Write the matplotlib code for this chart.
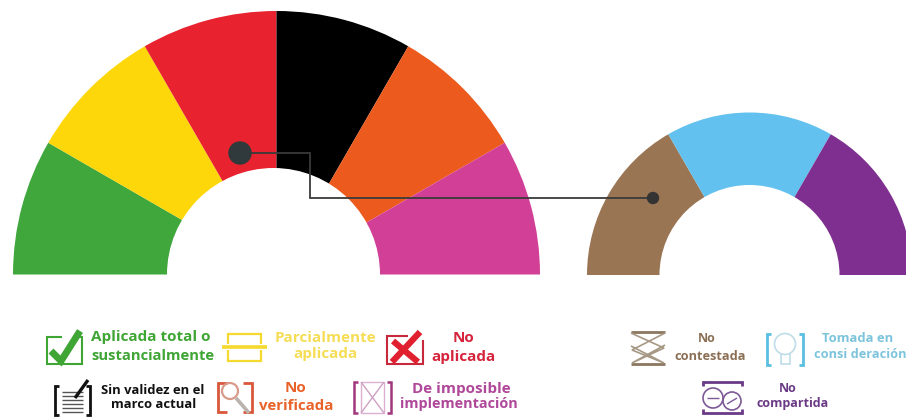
import matplotlib
matplotlib.use('Agg')
import matplotlib.pyplot as plt
from matplotlib.patches import Circle

W, H = 906, 418

# two half donuts, slices run left to right over the top
main_values = [1, 1, 1, 1, 1, 1]
main_colors = ['#3fa73c', '#fdd70a', '#e8222f', '#000000', '#ec5a1e', '#d23f97']
side_values = [1, 1, 1]
side_colors = ['#9a7554', '#62c1ee', '#7f2f8f']

# legend text: lines, x centre, y centres, colour, size
legend_main = [
    (['Aplicada total o', 'sustancialmente'], [151, 152.5], [337, 356], '#3fa535', [11.0, 10.6]),
    (['Parcialmente', 'aplicada'], [325, 325], [338, 354], '#f5dd55', [11.0, 11.0]),
    (['No', 'aplicada'], [463, 464], [338, 357], '#d5243c', [11.0, 11.0]),
    (['Sin validez en el', 'marco actual'], [153, 154], [390, 404], '#111111', [9.4, 9.4]),
    (['No', 'verificada'], [295, 296], [388, 406], '#e8632a', [11.0, 10.8]),
    (['De imposible', 'implementación'], [461, 458.5], [389, 404], '#b0489a', [11.0, 10.4]),
]
legend_side = [
    (['No', 'contestada'], [707, 710], [339, 356], '#8b6f55', [9.0, 9.2]),
    (['Tomada en', 'consi deración'], [857.5, 860], [339, 355], '#7cc4dc', [9.4, 9.2]),
    (['No', 'compartida'], [788, 792.5], [389, 404], '#6b3a86', [9.0, 9.0]),
]


def py(y):
    return H - y


def half_donut(ax, values, colors, cx, base, r_out, hole_cx, r_in):
    # blank slice takes the lower half so the rest fills 180 degrees
    vals = list(values) + [sum(values)]
    cols = list(colors) + ['none']
    ax.pie(vals, colors=cols, startangle=180, counterclock=False,
           center=(cx, py(base)), radius=r_out, frame=True,
           wedgeprops={'linewidth': 0})
    ax.add_patch(Circle((hole_cx, py(base)), r_in, color='white', lw=0, zorder=2))


def poly(ax, xs, ys, color, lw=1.5, **kw):
    ax.plot(xs, [py(y) for y in ys], color=color, lw=lw, zorder=kw.pop('zorder', 3),
            solid_capstyle=kw.pop('cap', 'butt'), solid_joinstyle='miter', **kw)


def ring(ax, x, y, r, color, lw=1.2):
    ax.add_patch(Circle((x, py(y)), r, fill=False, ec=color, lw=lw, zorder=3))


def bracket(ax, x0, x1, y0, y1, color, lw=1.5, tick=5):
    # square brackets left and right of an icon
    poly(ax, [x0 + tick, x0, x0, x0 + tick], [y0, y0, y1, y1], color, lw)
    poly(ax, [x1 - tick, x1, x1, x1 - tick], [y0, y0, y1, y1], color, lw)


fig = plt.figure(figsize=(W / 100, H / 100), dpi=100)
ax = fig.add_axes([0, 0, 1, 1])

half_donut(ax, main_values, main_colors, 276.5, 274.5, 263.5, 273.5, 106.5)
half_donut(ax, side_values, side_colors, 749.5, 275, 162.5, 749.5, 90)

# connector between the red slice and the brown one
poly(ax, [240, 310, 310, 653], [153, 153, 198, 198], '#3a3a3a', 1.3, zorder=5)
ax.add_patch(Circle((240, py(153)), 11, color='#30393b', zorder=6))
ax.add_patch(Circle((653, py(198)), 5.5, color='#333333', zorder=6))

# check mark
c = '#3fa535'
poly(ax, [62, 47, 47, 82, 82, 78], [337, 337, 364, 364, 337, 337], c, 1.5)
poly(ax, [51, 61, 80], [351, 361, 331], c, 5)

# split box
c = '#f5d92e'
poly(ax, [228, 228, 261, 261], [344, 334, 334, 344], c, 1.6)
poly(ax, [228, 228, 261, 261], [350, 361, 361, 350], c, 1.6)
poly(ax, [222, 267], [347, 347], c, 2.6)

# crossed box
c = '#c8283c'
poly(ax, [408, 387, 387, 423, 423], [336, 336, 364, 364, 340], c, 1.5)
poly(ax, [393, 418], [341, 362], '#e0202f', 4.5)
poly(ax, [420, 392], [332, 362], '#e0202f', 4.5)

# document and pen
c = '#111111'
bracket(ax, 55, 90, 386, 415, c, 2, tick=4)
for yy in [392, 396, 400, 404, 408, 412]:
    poly(ax, [62, 83], [yy, yy], '#555555', 1)
poly(ax, [88, 75], [380, 398], c, 2.4)

# magnifier
c = '#d9573a'
bracket(ax, 218, 252, 383, 412, c, 2, tick=9)
ring(ax, 230, 391, 8, '#d99a8a', 1.6)
poly(ax, [236, 249], [398, 413], '#b9b2ad', 2.6)

# box with a cross, impossible
c = '#a3377f'
bracket(ax, 354, 391, 382, 413, c, 1.8, tick=4)
poly(ax, [361, 384, 384, 361, 361], [382, 382, 413, 413, 382], '#dcb0d0', 1)
poly(ax, [361, 384], [382, 413], '#cfa0c4', 1)
poly(ax, [384, 361], [382, 413], '#cfa0c4', 1)

# crossed lines, not answered
c = '#8b7660'
poly(ax, [631, 665], [332, 332], c, 2)
poly(ax, [631, 665], [364, 364], c, 2)
poly(ax, [631, 664, 632, 665], [333, 348, 363, 345], '#a69885', 1.2)
poly(ax, [665, 632, 664, 631], [333, 350, 363, 346], '#a69885', 1.2)

# light bulb
c = '#5bbfe0'
bracket(ax, 767, 803, 334, 365, c, 2, tick=4)
ring(ax, 785, 344, 10.5, '#bfdde8')
poly(ax, [781, 781, 790, 790], [354, 364, 364, 354], '#bfdde8', 1.2)

# speech balloons
c = '#6b3a86'
poly(ax, [703, 703, 742, 742], [386, 382, 382, 386], c, 2)
poly(ax, [703, 703, 742, 742], [409, 413, 413, 409], c, 2)
ring(ax, 713, 398, 10, '#7d5a95')
ring(ax, 732, 401, 9, '#7d5a95')
poly(ax, [707, 719], [398, 398], '#7d5a95', 1)
poly(ax, [727, 737], [404, 398], '#7d5a95', 1)

for lines, xs, ys, color, sizes in legend_main + legend_side:
    for line, x, y, size in zip(lines, xs, ys, sizes):
        ax.text(x, py(y), line, color=color, fontsize=size, fontweight='bold',
                family='Open Sans', ha='center', va='center', zorder=4)

ax.set_xlim(0, W)
ax.set_ylim(0, H)
ax.set_aspect('equal')
ax.axis('off')

fig.savefig('out.png', dpi=100, facecolor='white')
